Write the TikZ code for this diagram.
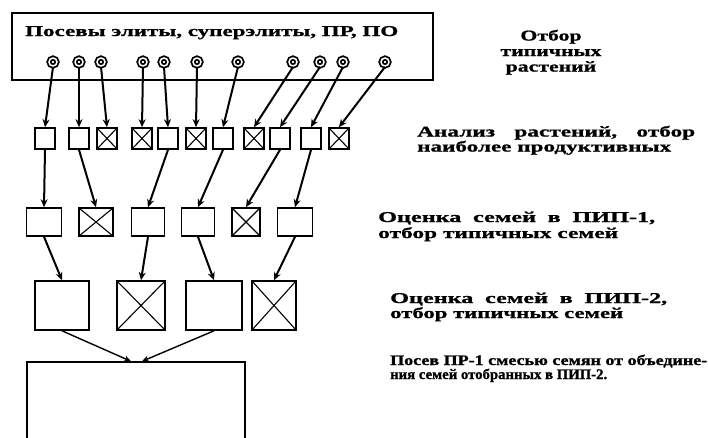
\documentclass[tikz,border=0pt]{standalone}
\usepackage{fontspec}
\usepackage{graphicx}
\setmainfont{Liberation Serif}[FakeStretch=1.45, BoldFeatures={FakeBold=1.2}]
\newfontfamily\plainrf{Liberation Serif}[FakeStretch=1.1, BoldFeatures={FakeBold=1.2}]
\usetikzlibrary{arrows.meta}
\newcommand{\fitw}[2]{\resizebox{#1}{\height}{#2}}
\tikzset{
  txt/.style={anchor=base west, inner sep=0pt, font=\fontsize{15}{15}\selectfont\bfseries},
  txtc/.style={anchor=base, inner sep=0pt, font=\fontsize{15}{15}\selectfont\bfseries},
  txts/.style={anchor=base west, inner sep=0pt, font=\plainrf\fontsize{14.5}{14.5}\selectfont\bfseries},
  box/.style={draw, rectangle, line width=1.6pt, inner sep=0pt},
  xbox/.style={box, path picture={\draw[line width=1.1pt]
      (path picture bounding box.north west) -- (path picture bounding box.south east)
      (path picture bounding box.north east) -- (path picture bounding box.south west);}},
  seed/.style={circle, draw, double, double distance=1.5pt, line width=1.8pt, inner sep=0pt, minimum size=8pt},
  arr/.style={-{Stealth[length=8pt,width=7pt]}, line width=2pt},
  arrt/.style={-{Stealth[length=7pt,width=6pt]}, line width=1.4pt},
  r2/.style={minimum width=20pt, minimum height=21pt},
  r3/.style={minimum height=28pt},
  r4/.style={minimum height=49pt}
}
\begin{document}
\begin{tikzpicture}[x=1pt,y=-1pt]
\useasboundingbox (0,0) rectangle (708,437);
\clip (0,0) rectangle (708,437);

% top box
\node[box, line width=1.7pt, minimum width=421pt, minimum height=67pt] (top) at (222.5,46.5) {};
\node[txt] (t1) at (25,36) {\fitw{373pt}{Посевы элиты, суперэлиты, ПР, ПО}};

% seeds
\foreach \i/\x in {1/53,2/79,3/101,4/143,5/164,6/197,7/238,8/293,9/320,10/343,11/385}
  \node[seed] (c\i) at (\x,62) {};

% row 2
\node[box,r2]  (a1)  at (45,138.5) {};
\node[box,r2]  (a2)  at (79,138.5) {};
\node[xbox,r2] (a3)  at (107,138.5) {};
\node[xbox,r2] (a4)  at (142,138.5) {};
\node[box,r2]  (a5)  at (168,138.5) {};
\node[xbox,r2] (a6)  at (196,138.5) {};
\node[box,r2]  (a7)  at (223,138.5) {};
\node[xbox,r2] (a8)  at (254,138.5) {};
\node[box,r2]  (a9)  at (280,138.5) {};
\node[box,r2]  (a10) at (311,138.5) {};
\node[xbox,r2] (a11) at (339,138.5) {};

\foreach \i in {1,...,11}
  \draw[arr] (c\i.south) -- (a\i.north);

% row 3
\node[box,r3,minimum width=35pt]  (b1) at (44,222) {};
\node[xbox,r3,minimum width=34pt] (b2) at (96,222) {};
\node[box,r3,minimum width=33pt]  (b3) at (148,222) {};
\node[box,r3,minimum width=33pt]  (b4) at (198,222) {};
\node[xbox,r3,minimum width=28pt] (b5) at (246,222) {};
\node[box,r3,minimum width=35pt]  (b6) at (295,222) {};

\draw[arr] (a1.south) -- (b1.north);
\draw[arr] (a2.south) -- (b2.north);
\draw[arr] (a5.south) -- (b3.north);
\draw[arr] (a7.south) -- (b4.north);
\draw[arr] (a9.south) -- (b5.north);
\draw[arr] (a10.south) -- (b6.north);

% row 4
\node[box,r4,minimum width=54pt]  (d1) at (62,305.5) {};
\node[xbox,r4,minimum width=48pt] (d2) at (141,305.5) {};
\node[box,r4,minimum width=56pt]  (d3) at (214,305.5) {};
\node[xbox,r4,minimum width=44pt] (d4) at (274,305.5) {};

\draw[arr] (b1.south) -- (d1.north);
\draw[arr] (b3.south) -- (d2.north);
\draw[arr] (b4.south) -- (d3.north);
\draw[arr] (b6.south) -- (d4.north);

% bottom box
\node[box, line width=1.4pt, minimum width=218pt, minimum height=88pt] (fin) at (136,406) {};
\draw[arrt] (d1.south) -- ([xshift=-5pt]fin.north);
\draw[arrt] (d3.south) -- ([xshift=6pt]fin.north);

% right texts
\node[txtc] (o1) at (551,40.5) {Отбор};
\node[txtc] (o2) at (551,56) {типичных};
\node[txtc] (o3) at (551,71.5) {растений};

\node[txt] (p1) at (417,136.5) {\fitw{278pt}{Анализ\hspace{1.2em}растений,\hspace{1.2em}отбор}};
\node[txt] (p2) at (417,151.5) {\fitw{254pt}{наиболее продуктивных}};

\node[txt] (q1) at (378,222) {\fitw{277pt}{Оценка\hspace{0.7em}семей\hspace{0.7em}в\hspace{0.7em}ПИП-1,}};
\node[txt] (q2) at (378,238) {\fitw{240pt}{отбор типичных семей}};

\node[txt] (s1) at (390,303) {\fitw{277pt}{Оценка\hspace{0.7em}семей\hspace{0.7em}в\hspace{0.7em}ПИП-2,}};
\node[txt] (s2) at (390,318) {\fitw{233pt}{отбор типичных семей}};

\node[txts] (u1) at (390,365) {\fitw{317pt}{Посев ПР-1 смесью семян от объедине-}};
\node[txts] (u2) at (390,379) {\fitw{217pt}{ния семей отобранных в ПИП-2.}};
\end{tikzpicture}
\end{document}
